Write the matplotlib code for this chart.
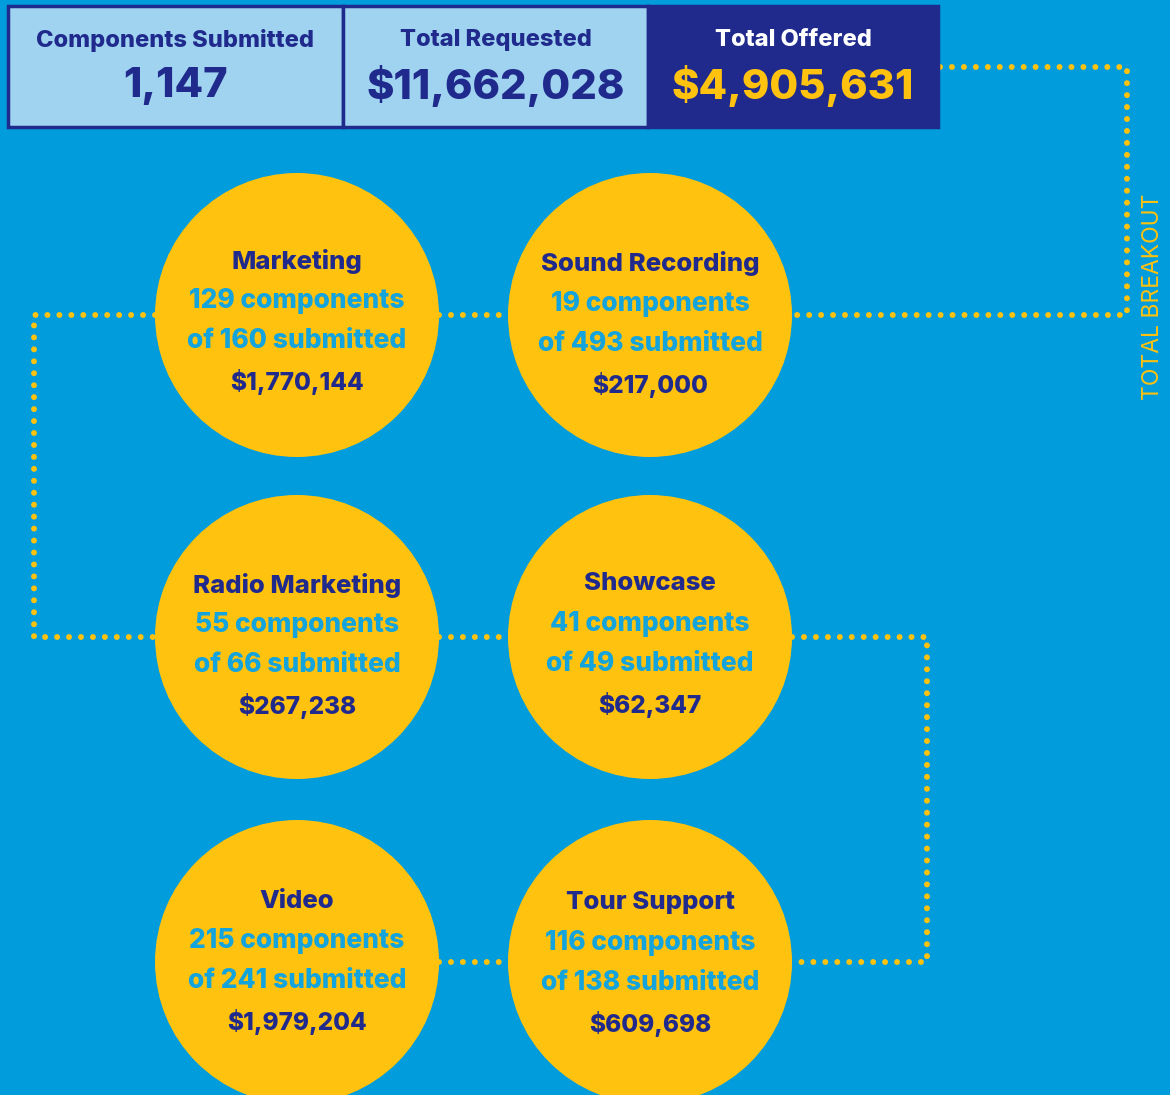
import matplotlib.pyplot as plt
from matplotlib.patches import Circle, Rectangle

# header totals
header_labels = ["Components Submitted", "Total Requested", "Total Offered"]
header_values = ["1,147", "$11,662,028", "$4,905,631"]

# breakout by category (row by row, left to right)
categories = ["Marketing", "Sound Recording", "Radio Marketing", "Showcase", "Video", "Tour Support"]
awarded = [129, 19, 55, 41, 215, 116]
submitted = [160, 493, 66, 49, 241, 138]
offered = [1770144, 217000, 267238, 62347, 1979204, 609698]

BG = "#009cdc"
YELLOW = "#ffc20e"
NAVY = "#1f2a8c"
LIGHT = "#9fd3f0"
CYAN = "#13a3dd"
FONT = ["Inter", "DejaVu Sans"]
W = "heavy"

fig = plt.figure(figsize=(11.7, 10.95), dpi=100)
fig.patch.set_facecolor(BG)
ax = fig.add_axes([0, 0, 1, 1])
ax.set_xlim(0, 1170)
ax.set_ylim(1095, 0)
ax.axis("off")


def dotted(xs, ys):
    ax.plot(xs, ys, color=YELLOW, lw=4.3, linestyle=(0, (0.001, 2.0)),
            dash_capstyle="round", zorder=1)


# header boxes
box_x = [8, 343, 648]
box_w = [335, 305, 290]
for i in range(3):
    face = NAVY if i == 2 else LIGHT
    ax.add_patch(Rectangle((box_x[i], 6), box_w[i], 121, facecolor=face,
                           edgecolor=NAVY, lw=2.5, zorder=3))
    cx = box_x[i] + box_w[i] / 2
    ax.text(cx, 40, header_labels[i], ha="center", va="center", fontsize=17,
            fontweight=W, color="white" if i == 2 else NAVY, family=FONT, zorder=4)
    ax.text(cx, 86, header_values[i], ha="center", va="center", fontsize=30,
            fontweight=W, color=YELLOW if i == 2 else NAVY, family=FONT, zorder=4)

# connector paths
col_x = [297, 650]
row_y = [315, 637, 962]
r = 142
dotted([940, 1127, 1127, col_x[1] + r], [67, 67, row_y[0], row_y[0]])
dotted([col_x[0] - r, 34, 34, col_x[0] - r], [row_y[0], row_y[0], row_y[1], row_y[1]])
dotted([col_x[1] + r, 927, 927, col_x[1] + r], [row_y[1], row_y[1], row_y[2], row_y[2]])
for y in row_y:
    dotted([col_x[0] + r, col_x[1] - r], [y, y])

ax.text(1153, 297, "TOTAL BREAKOUT", rotation=90, ha="center", va="center",
        fontsize=16.5, fontweight="normal", color=YELLOW, family=FONT)

# circles
shift = [-1, 2, 1, 0, -8, -6]
for k, name in enumerate(categories):
    cx = col_x[k % 2]
    cy = row_y[k // 2] + shift[k]
    ax.add_patch(Circle((cx, row_y[k // 2]), r, facecolor=YELLOW, edgecolor="none", zorder=2))
    ax.text(cx, cy - 53, name, ha="center", va="center", fontsize=18.5,
            fontweight=W, color=NAVY, family=FONT, zorder=3)
    ax.text(cx, cy - 13, f"{awarded[k]} components", ha="center", va="center",
            fontsize=19, fontweight=W, color=CYAN, family=FONT, zorder=3)
    ax.text(cx, cy + 27, f"of {submitted[k]} submitted", ha="center", va="center",
            fontsize=19, fontweight=W, color=CYAN, family=FONT, zorder=3)
    ax.text(cx, cy + 68, f"${offered[k]:,}", ha="center", va="center", fontsize=17.5,
            fontweight=W, color=NAVY, family=FONT, zorder=3)

fig.savefig("out.png", dpi=100, facecolor=BG)
